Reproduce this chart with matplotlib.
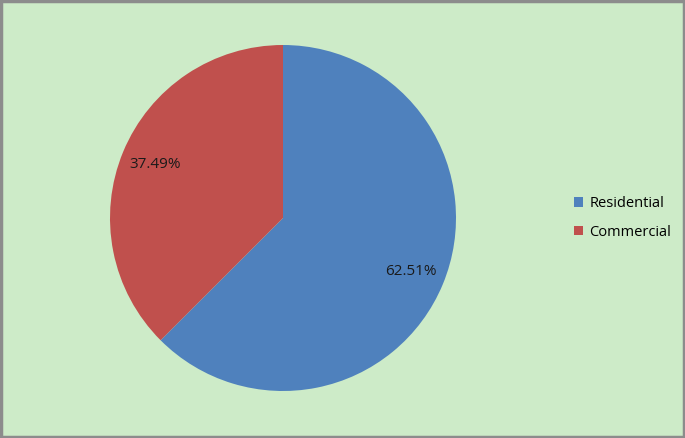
import matplotlib.pyplot as plt
from matplotlib.patches import Rectangle

labels = ['Residential', 'Commercial']
values = [62.51, 37.49]
colors = ['#4F81BD', '#C0504D']

plt.rcParams['font.family'] = ['Open Sans', 'DejaVu Sans']

fig = plt.figure(figsize=(6.85, 4.38), dpi=100)
fig.patch.set_facecolor('#CDEBC8')

# pie centre ~ (283, 218) px, radius ~173 px
W, H = 685, 438
r = 173
ax = fig.add_axes([(283 - r) / W, (H - 218 - r) / H, 2 * r / W, 2 * r / H])
wedges, _, autotexts = ax.pie(values, colors=colors, startangle=90, counterclock=False,
                              autopct='%.2f%%', pctdistance=0.8,
                              wedgeprops=dict(linewidth=0),
                              textprops=dict(fontsize=11, color='#1a1a1a'))
ax.set_aspect('equal')
ax.set_xlim(-1, 1)
ax.set_ylim(-1, 1)

fig.legend(wedges, labels, loc='center left', bbox_to_anchor=(561 / W, 1 - 218 / H),
           frameon=False, fontsize=10.5, handlelength=0.6, handleheight=0.6,
           handletextpad=0.45, labelspacing=0.95)

fig.add_artist(Rectangle((0.0015, 0.002), 0.997, 0.996, transform=fig.transFigure,
                         fill=False, edgecolor='#8c8c8c', linewidth=2.5))

fig.savefig('out.png', dpi=100, facecolor=fig.get_facecolor())
